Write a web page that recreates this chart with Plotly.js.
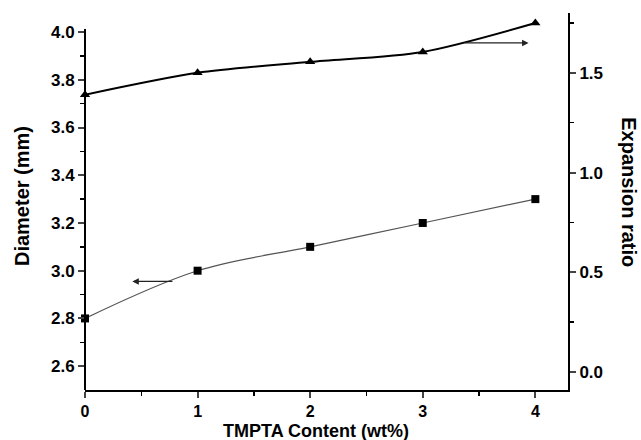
<!DOCTYPE html>
<html>
<head>
<meta charset="utf-8">
<script src="https://cdn.plot.ly/plotly-3.0.1.min.js"></script>
<style>html,body{margin:0;padding:0;background:#fff;}#chart{width:641px;height:440px;}</style>
</head>
<body>
<div id="chart"></div>
<script>
const tmptaContent = [0, 1, 2, 3, 4];
const diameter = [2.80, 3.00, 3.10, 3.20, 3.30];
const expansionRatio = [1.39, 1.50, 1.555, 1.605, 1.75];
const xTickVals = [0, 1, 2, 3, 4];
const yTickVals = [2.6, 2.8, 3.0, 3.2, 3.4, 3.6, 3.8, 4.0];
const y2TickVals = [0, 0.5, 1.0, 1.5];
const xTitle = "TMPTA Content (wt%)";
const yTitle = "Diameter (mm)";
const y2Title = "Expansion ratio";

const F = "Liberation Sans, Arial, sans-serif";
const bold = (v, d) => "<b>" + v.toFixed(d) + "</b>";
const tickFont = {family: F, size: 17, color: "#000"};
const xTickFont = {family: F, size: 16, color: "#000"};

const traces = [
  {
    x: tmptaContent, y: diameter, type: "scatter", mode: "lines+markers",
    line: {color: "#555", width: 1.2, shape: "spline", smoothing: 1},
    marker: {symbol: "square", size: 8, color: "#000"},
    yaxis: "y", cliponaxis: false
  },
  {
    x: tmptaContent, y: expansionRatio, type: "scatter", mode: "lines+markers",
    line: {color: "#000", width: 2, shape: "spline", smoothing: 0.8},
    marker: {symbol: "triangle-up", size: 9, color: "#000"},
    yaxis: "y2", cliponaxis: false
  }
];

const layout = {
  width: 641, height: 440,
  margin: {l: 85, r: 73, t: 13, b: 50},
  font: {family: F, size: 17, color: "#000"},
  paper_bgcolor: "#fff", plot_bgcolor: "#fff",
  showlegend: false,
  xaxis: {
    range: [0, 4.29], tickmode: "array", tickvals: xTickVals, ticktext: xTickVals.map(v => bold(v, 0)),
    ticks: "outside", ticklen: 6, tickwidth: 2, tickfont: xTickFont,
    showline: true, linewidth: 2, linecolor: "#000", showgrid: false, zeroline: false,
    minor: {dtick: 0.5, tick0: 0, ticks: "outside", ticklen: 4, tickwidth: 1.5, tickcolor: "#000"}
  },
  yaxis: {
    range: [2.5, 4.08], tickmode: "array", tickvals: yTickVals, ticktext: yTickVals.map(v => bold(v, 1)),
    ticks: "outside", ticklen: 6, tickwidth: 2, tickfont: tickFont,
    showline: false, showgrid: false, zeroline: false,
    minor: {tickvals: [2.7, 2.9, 3.1, 3.3, 3.5, 3.7, 3.9], ticks: "outside", ticklen: 4, tickwidth: 1.5, tickcolor: "#000"}
  },
  yaxis2: {
    overlaying: "y", side: "right",
    range: [-0.09, 1.80], tickmode: "array", tickvals: y2TickVals, ticktext: y2TickVals.map(v => bold(v, 1)),
    ticks: "outside", ticklen: 6, tickwidth: 2, tickfont: tickFont,
    showline: true, linewidth: 2, linecolor: "#000", showgrid: false, zeroline: false,
    minor: {tickvals: [0.25, 0.75, 1.25, 1.75], ticks: "outside", ticklen: 4, tickwidth: 1.5, tickcolor: "#000"}
  },
  shapes: [
    {type: "line", xref: "paper", x0: 0, x1: 0, yref: "y", y0: 2.5, y1: 4.013, line: {color: "#000", width: 2}}
  ],
  annotations: [
    {xref: "x", yref: "y", axref: "x", ayref: "y", x: 0.42, y: 2.955, ax: 0.79, ay: 2.955,
     showarrow: true, arrowhead: 2, arrowsize: 1, arrowwidth: 1.3, arrowcolor: "#222", text: ""},
    {xref: "x", yref: "y2", axref: "x", ayref: "y2", x: 3.94, y: 1.65, ax: 3.36, ay: 1.65,
     showarrow: true, arrowhead: 2, arrowsize: 1, arrowwidth: 1.3, arrowcolor: "#222", text: ""},
    {xref: "paper", yref: "paper", x: -0.130, y: 0.515, xanchor: "center", yanchor: "middle",
     text: "<b>" + yTitle + "</b>", textangle: -90, showarrow: false, font: {family: F, size: 20, color: "#000"}},
    {xref: "paper", yref: "paper", x: 1.126, y: 0.525, xanchor: "center", yanchor: "middle",
     text: "<b>" + y2Title + "</b>", textangle: 90, showarrow: false, font: {family: F, size: 20, color: "#000"}},
    {xref: "paper", yref: "paper", x: 0.478, y: -0.140, xanchor: "center", yanchor: "bottom",
     text: "<b>" + xTitle + "</b>", showarrow: false, font: {family: F, size: 18, color: "#000"}}
  ]
};

Plotly.newPlot("chart", traces, layout, {displayModeBar: false, staticPlot: true});
</script>
</body>
</html>
